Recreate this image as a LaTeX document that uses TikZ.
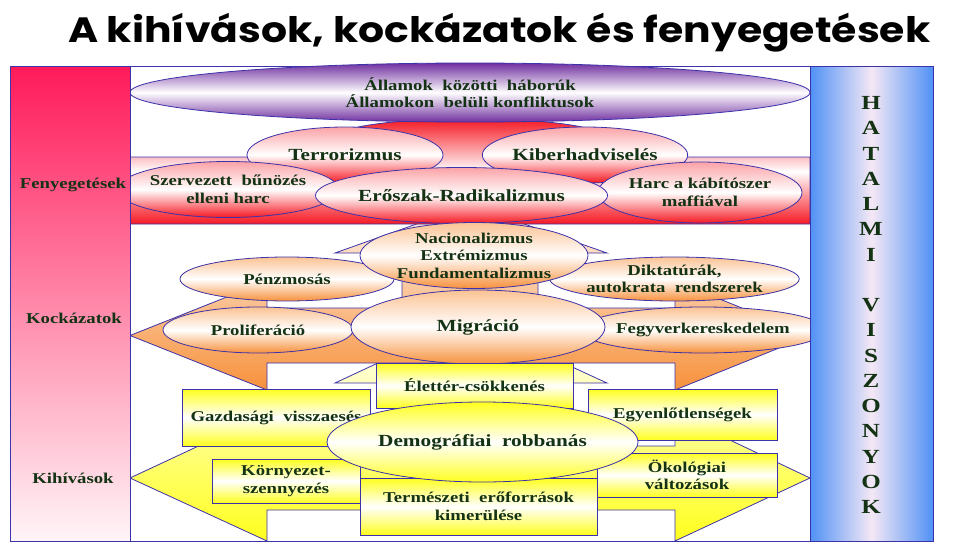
\documentclass[tikz,border=0pt]{standalone}
\usepackage{fontspec}
\usepackage{graphicx}
\usetikzlibrary{shapes.geometric}
\newfontfamily\lab{Liberation Serif}[FakeStretch=1.25]
\newfontfamily\ttl{Poppins}
\definecolor{bord}{RGB}{60,50,170}
\definecolor{txt}{RGB}{20,50,20}
\definecolor{pinkA}{RGB}{255,26,90}
\definecolor{pinkZ}{RGB}{255,245,248}
\definecolor{blueA}{RGB}{80,145,245}
\definecolor{blueM}{RGB}{245,232,245}
\definecolor{redA}{RGB}{245,25,35}
\definecolor{orA}{RGB}{247,145,60}
\definecolor{yeA}{RGB}{255,255,30}
\definecolor{purA}{RGB}{112,48,160}
\begin{document}
\begin{tikzpicture}[x=1pt,y=-1pt,
  lbl/.style={font=\lab\bfseries\fontsize{15}{17.5}\selectfont, text=txt, align=center},
  big/.style={font=\lab\bfseries\fontsize{17}{20}\selectfont, text=txt, align=center},
  sz/.style 2 args={minimum width=#1pt, minimum height=#2pt},
  ov/.style={ellipse, draw=bord, line width=0.8pt, inner sep=0pt},
  purov/.style={ov, top color=purA, bottom color=purA, middle color=white},
  redov/.style={ov, top color=redA!40!white, bottom color=redA, middle color=white},
  orov/.style={ov, top color=orA!55!white, bottom color=orA, middle color=white},
  yeov/.style={ov, top color=yeA, bottom color=yeA, middle color=white},
  yebox/.style={rectangle, draw=bord, line width=0.8pt, inner sep=0pt, top color=yeA, bottom color=yeA, middle color=white},
  edge/.style={draw=bord, line width=0.8pt}
]
\useasboundingbox (0,0) rectangle (979,543);

% title
\node[anchor=base west, inner sep=0pt] (title) at (68,42)
  {\resizebox*{862pt}{39pt}{\ttl\bfseries A kihívások, kockázatok és fenyegetések}};

% frame
\draw[edge] (10,66) rectangle (932,541);

% yellow three-way arrow (challenges)
\path[edge, top color=white, bottom color=yeA]
  (130,478) -- (267,414) -- (267,446) -- (402,446) -- (402,383) -- (335,383)
  -- (470,320) -- (607,383) -- (538,383) -- (538,446) -- (675,446) -- (675,414)
  -- (810,478) -- (675,541) -- (675,510) -- (267,510) -- (267,541) -- cycle;

% orange three-way arrow (risks)
\path[edge, top color=orA!10!white, bottom color=orA]
  (130,335.5) -- (267,281) -- (267,308) -- (402,308) -- (402,253) -- (335,253)
  -- (470,205) -- (607,253) -- (538,253) -- (538,308) -- (675,308) -- (675,281)
  -- (810,335.5) -- (675,390) -- (675,363) -- (267,363) -- (267,390) -- cycle;

% red band with dome (threats)
\path[edge, top color=redA, bottom color=redA, middle color=white]
  (130,224) -- (130,157) -- (300,157)
  .. controls (318,124) and (400,119) .. (470,119)
  .. controls (540,119) and (622,124) .. (640,157)
  -- (810,157) -- (810,224) -- cycle;

% top ellipse
\node[purov, sz={680}{59}, lbl] (wars) at (470,92.5)
  {Államok \ közötti \ háborúk\\Államokon \ belüli konfliktusok};

% threats
\node[redov, sz={196}{56}, big] (terror) at (345,155) {Terrorizmus};
\node[redov, sz={196}{56}, big] (cyber) at (585,155) {Kiberhadviselés};
\node[redov, sz={196}{56}, lbl] (crime) at (228,189.5) {Szervezett \ bűnözés\\elleni harc};
\node[redov, sz={204}{61}, lbl] (drug) at (700,192.5) {Harc a kábítószer\\maffiával};
\node[redov, sz={287}{56}, big] (violence) at (461.5,195.5) {Erőszak-Radikalizmus};

% risks
\node[orov, sz={214}{44}, lbl] (money) at (287,279) {Pénzmosás};
\node[orov, sz={237}{44}, lbl] (dict) at (674.5,279) {Diktatúrák,\\autokrata \ rendszerek};
\node[orov, sz={190}{46}, lbl] (prolif) at (258,330) {Proliferáció};
\node[orov, sz={196}{46}, lbl] (arms) at (703,330) {Fegyverkereskedelem};
\node[orov, sz={254}{74}, big] (migr) at (478,327) {Migráció};
\node[orov, sz={228}{66}, lbl] (nation) at (474,255.5) {Nacionalizmus\\Extrémizmus\\Fundamentalizmus};

% challenges
\node[yebox, sz={197}{45}, lbl] (space) at (474.5,385.5) {Élettér-csökkenés};
\node[yebox, sz={188}{57}, lbl] (econ) at (276,417.5) {Gazdasági \ visszaesés};
\node[yebox, sz={189}{51}, lbl] (ineq) at (682.5,414.5) {Egyenlőtlenségek};
\node[yebox, sz={148}{44}, lbl] (pollu) at (286,481) {Környezet-\\szennyezés};
\node[yebox, sz={237}{57}, lbl] (resou) at (478.5,506.5) {Természeti \ erőforrások\\kimerülése};
\node[yebox, sz={180}{44}, lbl] (ecol) at (687,475) {Ökológiai\\változások};
\node[yeov, sz={311}{80}, big] (demo) at (482.5,442) {Demográfiai \ robbanás};

% side bars
\node[rectangle, draw=bord, line width=0.8pt, inner sep=0pt, sz={120}{475},
  top color=pinkA, bottom color=pinkZ] (lbar) at (70,303.5) {};
\node[rectangle, draw=bord, line width=0.8pt, inner sep=0pt, sz={123}{475},
  left color=blueA, right color=blueA, middle color=blueM] (rbar) at (871.5,303.5) {};

\node[lbl] (thr) at (73,185) {Fenyegetések};
\node[lbl] (risk) at (74,318) {Kockázatok};
\node[lbl] (chal) at (73,478) {Kihívások};

\foreach \L/\Y [count=\i] in {H/103,A/128.25,T/153.5,A/178.75,L/204,M/229.25,I/254.5,
  V/305,I/330.25,S/355.5,Z/380.75,O/406,N/431.25,Y/456.5,O/481.75,K/507}
  \node[big, font=\lab\bfseries\fontsize{20}{22}\selectfont] (hv\i) at (871,\Y) {\L};
\end{tikzpicture}
\end{document}
